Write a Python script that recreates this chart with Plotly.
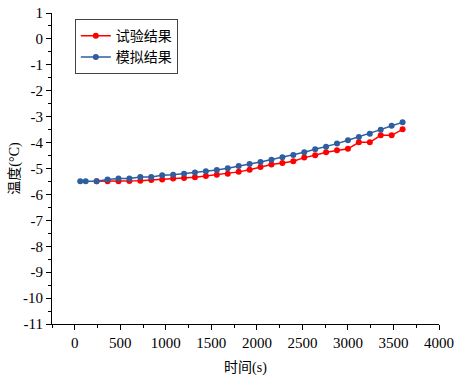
import plotly.graph_objects as go

# 时间 (s)
t_sim = [60, 120, 240, 360, 480, 600, 720, 840, 960, 1080, 1200, 1320, 1440, 1560,
         1680, 1800, 1920, 2040, 2160, 2280, 2400, 2520, 2640, 2760, 2880, 3000,
         3120, 3240, 3360, 3480, 3600]
sim_vals = [-5.49, -5.49, -5.49, -5.42, -5.39, -5.39, -5.33, -5.33, -5.26, -5.24,
            -5.20, -5.15, -5.11, -5.06, -4.99, -4.90, -4.83, -4.75, -4.66, -4.57,
            -4.48, -4.37, -4.26, -4.16, -4.04, -3.91, -3.78, -3.66, -3.50, -3.35, -3.22]

t_exp = [240, 360, 480, 600, 720, 840, 960, 1080, 1200, 1320, 1440, 1560,
         1680, 1800, 1920, 2040, 2160, 2280, 2400, 2520, 2640, 2760, 2880, 3000,
         3120, 3240, 3360, 3480, 3600]
exp_vals = [-5.49, -5.49, -5.49, -5.48, -5.47, -5.44, -5.42, -5.39, -5.37, -5.34,
            -5.29, -5.24, -5.20, -5.13, -5.05, -4.94, -4.85, -4.79, -4.72, -4.58,
            -4.49, -4.37, -4.30, -4.24, -3.99, -3.99, -3.72, -3.72, -3.49]

series_names = ["试验结果", "模拟结果"]
x_ticks = [0, 500, 1000, 1500, 2000, 2500, 3000, 3500, 4000]
y_ticks = list(range(-11, 2))

fig = go.Figure()
fig.add_trace(go.Scatter(x=t_exp, y=exp_vals, mode="lines+markers", name=series_names[0],
                         line=dict(color="#FF0000", width=1.5),
                         marker=dict(color="#FF0000", size=6)))
fig.add_trace(go.Scatter(x=t_sim, y=sim_vals, mode="lines+markers", name=series_names[1],
                         line=dict(color="#2E5E9E", width=1.5),
                         marker=dict(color="#2E5E9E", size=6)))

font_family = "Liberation Serif, Noto Sans CJK SC, serif"
fig.update_layout(
    width=458, height=378,
    margin=dict(l=52, r=19, t=13, b=54, autoexpand=False),
    paper_bgcolor="white", plot_bgcolor="white",
    font=dict(family=font_family, size=15, color="black"),
    showlegend=True,
    legend=dict(x=0.059, y=0.98, xanchor="left", yanchor="top",
                bgcolor="white", bordercolor="#444", borderwidth=1,
                font=dict(size=14, family=font_family), tracegroupgap=0,
                itemwidth=30),
    xaxis=dict(range=[-250, 4000], tickvals=x_ticks, ticktext=[str(v) for v in x_ticks],
               automargin=False, ticklabeloverflow="allow",
               showgrid=False, zeroline=False, showline=True, linecolor="black", linewidth=1,
               ticks="outside", ticklen=5, tickcolor="black", tickwidth=1,
               minor=dict(dtick=250, tick0=0, ticks="outside", ticklen=3, tickcolor="black", showgrid=False),
               title=dict(text="时间(s)", font=dict(size=14), standoff=12),
               tickfont=dict(size=15, family="Liberation Serif")),
    yaxis=dict(range=[-11, 1], tickvals=y_ticks, ticktext=[str(v) for v in y_ticks],
               automargin=False, ticklabeloverflow="allow",
               showgrid=False, zeroline=False, showline=True, linecolor="black", linewidth=1,
               ticks="outside", ticklen=5, tickcolor="black", tickwidth=1,
               minor=dict(dtick=0.5, tick0=0, ticks="outside", ticklen=3, tickcolor="black", showgrid=False),
               title=dict(text="温度(°C)", font=dict(size=14), standoff=0),
               tickfont=dict(size=15, family="Liberation Serif")),
)

fig.write_html("out.html", config={"displayModeBar": False},
               post_script="document.body.style.margin='0';")
